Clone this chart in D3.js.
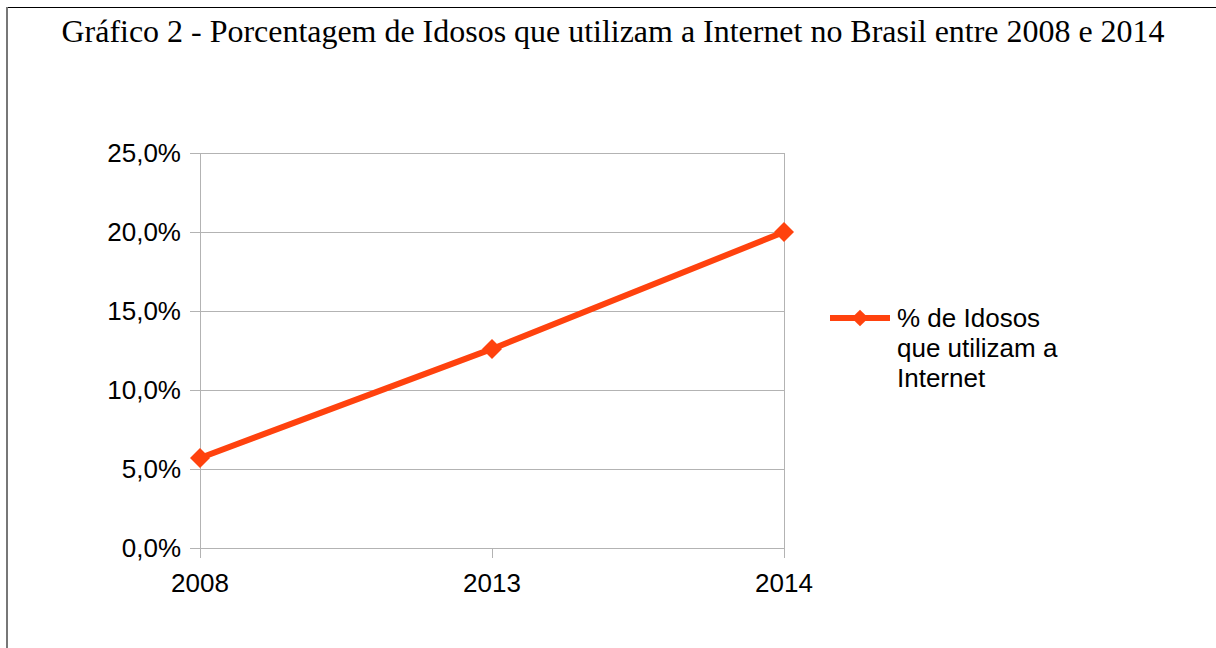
<!DOCTYPE html>
<html>
<head>
<meta charset="utf-8">
<script src="https://cdn.jsdelivr.net/npm/d3@7"></script>
<style>
  body { margin: 0; background: #fff; }
  svg { display: block; }
</style>
</head>
<body>
<script>
var w = 1216, h = 648;

var years = ['2008', '2013', '2014'];
var values = [5.7, 12.6, 20.0];
var yTicks = [0, 5, 10, 15, 20, 25];
var seriesName = ['% de Idosos', 'que utilizam a', 'Internet'];
var title = 'Gráfico 2 - Porcentagem de Idosos que utilizam a Internet no Brasil entre 2008 e 2014';

var color = '#ff420e';
var grid = '#b3b3b3';

var svg = d3.select('body').append('svg')
    .attr('width', w)
    .attr('height', h);

// frame
svg.append('line')
    .attr('x1', 7).attr('x2', w).attr('y1', 7.5).attr('y2', 7.5)
    .attr('stroke', '#000').attr('stroke-width', 1);
svg.append('line')
    .attr('x1', 7).attr('x2', 7).attr('y1', 7).attr('y2', h)
    .attr('stroke', '#777').attr('stroke-width', 2);

svg.append('text')
    .attr('x', 613).attr('y', 42)
    .attr('text-anchor', 'middle')
    .style('font-family', '"Liberation Serif", "Times New Roman", serif')
    .style('font-size', '32px')
    .attr('textLength', 1103)
    .attr('lengthAdjust', 'spacingAndGlyphs')
    .text(title);

var x = d3.scalePoint().domain(years).range([200, 784]);
var y = d3.scaleLinear().domain([0, 25]).range([548, 153]);

var fmt = function(d) { return d.toFixed(1).replace('.', ',') + '%'; };

// horizontal gridlines
svg.append('g').selectAll('line')
    .data(yTicks)
    .enter().append('line')
    .attr('x1', 190).attr('x2', 784)
    .attr('y1', function(d) { return Math.round(y(d)) + 0.5; })
    .attr('y2', function(d) { return Math.round(y(d)) + 0.5; })
    .attr('stroke', grid);

// plot edges left/right
svg.append('g').selectAll('line')
    .data([years[0], years[years.length - 1]])
    .enter().append('line')
    .attr('x1', function(d) { return x(d) + 0.5; })
    .attr('x2', function(d) { return x(d) + 0.5; })
    .attr('y1', 153).attr('y2', 548)
    .attr('stroke', grid);

// category ticks
svg.append('g').selectAll('line')
    .data(years)
    .enter().append('line')
    .attr('x1', function(d) { return x(d) + 0.5; })
    .attr('x2', function(d) { return x(d) + 0.5; })
    .attr('y1', 548).attr('y2', 558)
    .attr('stroke', grid);

var labelFont = '"Liberation Sans", Arial, sans-serif';

svg.append('g').selectAll('text')
    .data(yTicks)
    .enter().append('text')
    .attr('x', 181)
    .attr('y', function(d) { return y(d) + 9; })
    .attr('text-anchor', 'end')
    .style('font-family', labelFont)
    .style('font-size', '26px')
    .text(fmt);

svg.append('g').selectAll('text')
    .data(years)
    .enter().append('text')
    .attr('x', function(d) { return x(d); })
    .attr('y', 592)
    .attr('text-anchor', 'middle')
    .style('font-family', labelFont)
    .style('font-size', '26px')
    .text(function(d) { return d; });

var pts = years.map(function(d, i) { return {year: d, v: values[i]}; });

svg.append('path')
    .datum(pts)
    .attr('fill', 'none')
    .attr('stroke', color)
    .attr('stroke-width', 6)
    .attr('d', d3.line()
        .x(function(d) { return x(d.year); })
        .y(function(d) { return y(d.v); }));

var diamond = d3.symbol().type(d3.symbolSquare).size(200);

svg.append('g').selectAll('path')
    .data(pts)
    .enter().append('path')
    .attr('transform', function(d) { return 'translate(' + [x(d.year), y(d.v)] + ') rotate(45)'; })
    .attr('d', diamond)
    .attr('fill', color);

// legend
var lg = svg.append('g').attr('transform', 'translate(830,318)');
lg.append('line')
    .attr('x1', 0).attr('x2', 60).attr('y1', 0).attr('y2', 0)
    .attr('stroke', color).attr('stroke-width', 6);
lg.append('path')
    .attr('transform', 'translate(30,0) rotate(45)')
    .attr('d', d3.symbol().type(d3.symbolSquare).size(140))
    .attr('fill', color);
lg.append('g').selectAll('text')
    .data(seriesName)
    .enter().append('text')
    .attr('x', 67)
    .attr('y', function(d, i) { return 9 + i * 30; })
    .style('font-family', labelFont)
    .style('font-size', '26px')
    .text(function(d) { return d; });
</script>
</body>
</html>
